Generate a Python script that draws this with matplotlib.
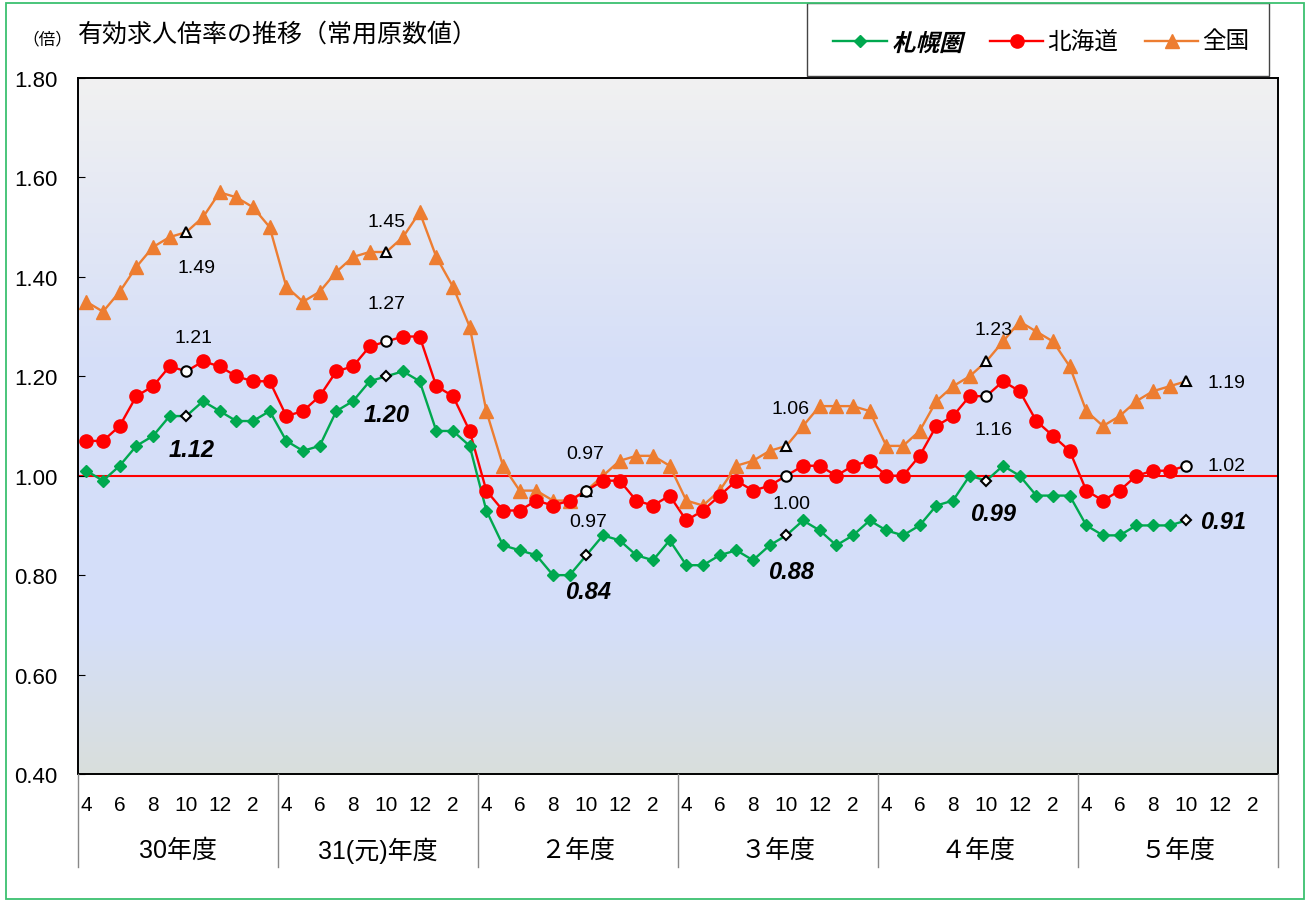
import numpy as np
import matplotlib
matplotlib.use('Agg')
import matplotlib.pyplot as plt
from matplotlib.lines import Line2D
from matplotlib.patches import Rectangle, PathPatch
from matplotlib.textpath import TextPath
from matplotlib.font_manager import FontProperties
from matplotlib.transforms import Affine2D
from matplotlib.colors import LinearSegmentedColormap

# ---------------- data ----------------
fiscal_years = ['30年度', '31(元)年度', '２年度', '３年度', '４年度', '５年度']
month_labels = ['4', '', '6', '', '8', '', '10', '', '12', '', '2', '']

sapporo = [1.01, 0.99, 1.02, 1.06, 1.08, 1.12, 1.12, 1.15, 1.13, 1.11, 1.11, 1.13,
           1.07, 1.05, 1.06, 1.13, 1.15, 1.19, 1.20, 1.21, 1.19, 1.09, 1.09, 1.06,
           0.93, 0.86, 0.85, 0.84, 0.80, 0.80, 0.84, 0.88, 0.87, 0.84, 0.83, 0.87,
           0.82, 0.82, 0.84, 0.85, 0.83, 0.86, 0.88, 0.91, 0.89, 0.86, 0.88, 0.91,
           0.89, 0.88, 0.90, 0.94, 0.95, 1.00, 0.99, 1.02, 1.00, 0.96, 0.96, 0.96,
           0.90, 0.88, 0.88, 0.90, 0.90, 0.90, 0.91]
hokkaido = [1.07, 1.07, 1.10, 1.16, 1.18, 1.22, 1.21, 1.23, 1.22, 1.20, 1.19, 1.19,
            1.12, 1.13, 1.16, 1.21, 1.22, 1.26, 1.27, 1.28, 1.28, 1.18, 1.16, 1.09,
            0.97, 0.93, 0.93, 0.95, 0.94, 0.95, 0.97, 0.99, 0.99, 0.95, 0.94, 0.96,
            0.91, 0.93, 0.96, 0.99, 0.97, 0.98, 1.00, 1.02, 1.02, 1.00, 1.02, 1.03,
            1.00, 1.00, 1.04, 1.10, 1.12, 1.16, 1.16, 1.19, 1.17, 1.11, 1.08, 1.05,
            0.97, 0.95, 0.97, 1.00, 1.01, 1.01, 1.02]
national = [1.35, 1.33, 1.37, 1.42, 1.46, 1.48, 1.49, 1.52, 1.57, 1.56, 1.54, 1.50,
            1.38, 1.35, 1.37, 1.41, 1.44, 1.45, 1.45, 1.48, 1.53, 1.44, 1.38, 1.30,
            1.13, 1.02, 0.97, 0.97, 0.95, 0.95, 0.97, 1.00, 1.03, 1.04, 1.04, 1.02,
            0.95, 0.94, 0.97, 1.02, 1.03, 1.05, 1.06, 1.10, 1.14, 1.14, 1.14, 1.13,
            1.06, 1.06, 1.09, 1.15, 1.18, 1.20, 1.23, 1.27, 1.31, 1.29, 1.27, 1.22,
            1.13, 1.10, 1.12, 1.15, 1.17, 1.18, 1.19]
highlight_idx = [6, 18, 30, 42, 54, 66]   # October of each fiscal year

# label offsets (pixels) relative to the highlighted points (last one: left edge)
off_sapporo = [(5, -33), (0, -38), (2, -36), (5, -36), (7, -33), (14, -1)]
off_hokkaido = [(7, 34), (0, 38), (2, -31), (5, -28), (7, -33), (21, 0)]
off_national = [(10, -35), (0, 31), (-1, 37), (4, 37), (7, 32), (21, -1)]

W, H = 1306, 903
GREEN, RED, ORANGE = '#00a84f', '#ff0000', '#ed7d31'
NUMFONT = ['Liberation Sans', 'Noto Sans CJK JP']
JPFONT = ['Noto Sans CJK JP', 'DejaVu Sans']

fig = plt.figure(figsize=(W / 100, H / 100), dpi=100)
fig.patch.set_facecolor('white')


def fx(x):
    return x / W


def fy(y):
    return 1 - y / H


ax = fig.add_axes([fx(78), fy(775), 1200 / W, 696 / H])

# background gradient
cmap = LinearSegmentedColormap.from_list(
    'bg', [(0, '#f1f1f1'), (0.4, '#d6dff8'), (0.78, '#d4defa'), (1.0, '#d9dfdc')])
ax.imshow(np.linspace(0, 1, 256).reshape(-1, 1), cmap=cmap, aspect='auto',
          extent=[-0.5, 71.5, 0.4, 1.8], origin='upper', zorder=0)

n = len(month_labels) * len(fiscal_years)
x_all = np.arange(n)

ax.axhline(1.0, color=RED, lw=1.5, zorder=1)


def draw_series(vals, color, marker, ms, hmarker, hms, offs, bold_italic):
    x = np.arange(len(vals))
    norm_idx = [i for i in range(len(vals)) if i not in highlight_idx]
    ax.plot(x, vals, color=color, lw=1.7, zorder=3)
    ax.plot(x[norm_idx], np.array(vals)[norm_idx], ls='none', marker=marker,
            ms=ms, color=color, mec=color, zorder=4)
    hv = [vals[i] for i in highlight_idx]
    ax.plot(highlight_idx, hv, ls='none', marker=hmarker, ms=hms, mfc='white',
            mec='black', mew=1.5, zorder=5)
    for i, (dx, dy) in zip(highlight_idx, offs):
        kw = dict(fontsize=17, fontweight='bold', fontstyle='italic') if bold_italic \
            else dict(fontsize=14)
        ha = 'left' if i == highlight_idx[-1] else 'center'
        ax.annotate(f'{vals[i]:.2f}', (i, vals[i]), xytext=(dx, dy),
                    textcoords='offset pixels', ha=ha, va='center',
                    family=NUMFONT, color='black', zorder=6, **kw)


draw_series(national, ORANGE, '^', 9.5, '^', 7.5, off_national, False)
draw_series(hokkaido, RED, 'o', 9.5, 'o', 7.5, off_hokkaido, False)
draw_series(sapporo, GREEN, 'D', 6.5, 'D', 5.5, off_sapporo, True)

ax.set_xlim(-0.5, n - 0.5)
ax.set_ylim(0.4, 1.8)
yt = np.arange(0.4, 1.81, 0.2)
ax.set_yticks(yt)
ax.set_yticklabels([f'{v:.2f}' for v in yt], family=NUMFONT, fontsize=16)
ax.tick_params(axis='y', direction='in', length=5, pad=15, width=0.8)

ax.set_xticks(x_all, minor=True)
ax.set_xticks(x_all)
ax.set_xticklabels(month_labels * len(fiscal_years), family=NUMFONT, fontsize=15)
ax.tick_params(axis='x', which='major', length=0, pad=15)
ax.tick_params(axis='x', which='minor', direction='in', length=4, width=0.8, color='#444444')
for s in ax.spines.values():
    s.set_color('black')
    s.set_linewidth(1.4)

# fiscal year separators & labels
for k in range(len(fiscal_years) + 1):
    xp = 78 + 200 * k
    fig.add_artist(Line2D([fx(xp), fx(xp)], [fy(775), fy(868)], color='#888888', lw=1.0))
for k, lab in enumerate(fiscal_years):
    fig.text(fx(178 + 200 * k), fy(851), lab, ha='center', va='center',
             family=NUMFONT, fontsize=18)

# title
fig.text(fx(22), fy(40), '（倍）', ha='left', va='center', family=JPFONT, fontsize=12)
fig.text(fx(78), fy(35), '有効求人倍率の推移（常用原数値）', ha='left', va='center',
         family=JPFONT, fontsize=18)

# legend box
fig.add_artist(Rectangle((fx(807), fy(77)), (1269 - 807) / W, (77 - 4) / H,
                         transform=fig.transFigure, facecolor='white',
                         edgecolor='#444444', lw=1.0))
leg_y = 42
items = [(833, 887, GREEN, 'D', 6.5), (990, 1043, RED, 'o', 9.5), (1145, 1198, ORANGE, '^', 9.5)]
for x0, x1, c, m, ms in items:
    fig.add_artist(Line2D([fx(x0), fx(x1)], [fy(leg_y), fy(leg_y)], color=c, lw=1.7))
    fig.add_artist(Line2D([fx((x0 + x1) / 2)], [fy(leg_y)], color=c, marker=m, ms=ms, ls='none'))

# bold italic CJK label via skewed text path
tp = TextPath((0, 0), '札幌圏', size=23.5,
              prop=FontProperties(family='Noto Sans CJK JP', weight='bold'))
tr = Affine2D().skew_deg(14, 0).translate(892, H - 52)
fig.add_artist(PathPatch(tp, transform=tr, facecolor='black', lw=0))
fig.text(fx(1047), fy(leg_y), '北海道', ha='left', va='center', family=JPFONT, fontsize=17)
fig.text(fx(1202), fy(leg_y), '全国', ha='left', va='center', family=JPFONT, fontsize=17)

# outer green frame
fig.add_artist(Rectangle((fx(6), fy(900)), (1304 - 6) / W, (900 - 4) / H,
                         transform=fig.transFigure, facecolor='none',
                         edgecolor='#3cc070', lw=1.3))

fig.savefig('out.png', dpi=100)
